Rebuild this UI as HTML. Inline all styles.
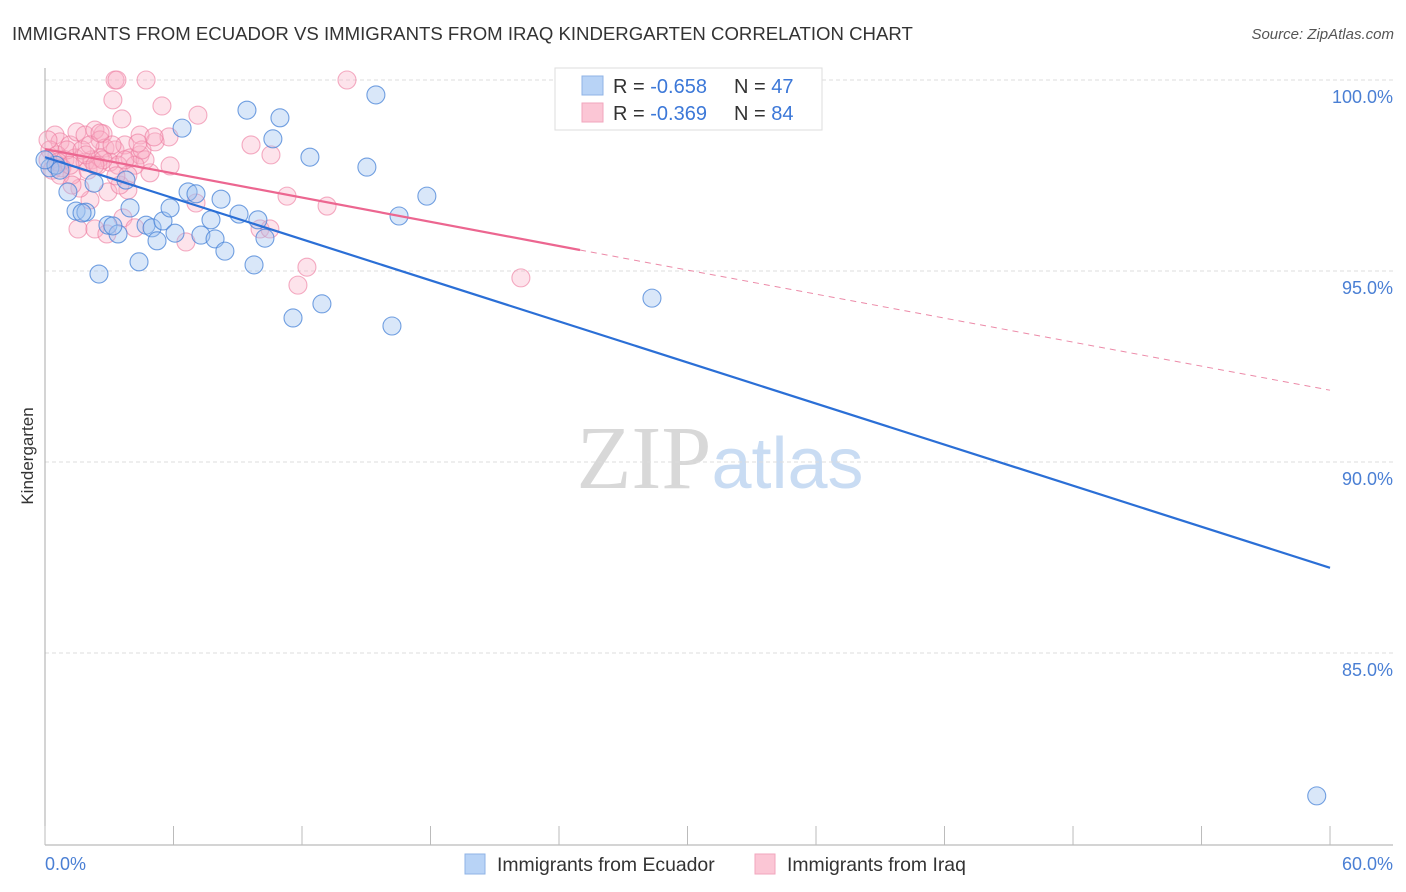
<!DOCTYPE html>
<html><head><meta charset="utf-8"><style>
body{margin:0;background:#fff;font-family:"Liberation Sans",sans-serif;}
svg{display:block}
</style></head><body>
<svg id="chart" width="1406" height="892" xmlns="http://www.w3.org/2000/svg">
<text x="12" y="40" font-size="18.6" fill="#333">IMMIGRANTS FROM ECUADOR VS IMMIGRANTS FROM IRAQ KINDERGARTEN CORRELATION CHART</text>
<text x="1394" y="39" font-size="15" fill="#555" font-style="italic" text-anchor="end">Source: ZipAtlas.com</text>
<text x="720" y="488" font-size="90" text-anchor="middle"><tspan fill="#d8d8d8" font-family="Liberation Serif">ZIP</tspan><tspan fill="#c9dcf3" font-size="72">atlas</tspan></text>
<g id="grid"></g>
<g id="axes"></g>
<g id="points"></g>
<g id="lines"></g>
<text transform="translate(33,456) rotate(-90)" font-size="17" fill="#333" text-anchor="middle">Kindergarten</text>
<text x="45" y="870" font-size="18" fill="#4a7fd4">0.0%</text>
<text x="1393" y="870" font-size="18" fill="#4a7fd4" text-anchor="end">60.0%</text>
<g>
<rect x="555" y="68" width="267" height="62" fill="#fff" stroke="#ddd"/>
<rect x="582" y="76" width="21" height="19" fill="#b8d3f6" stroke="#8fb3e6"/>
<rect x="582" y="103" width="21" height="19" fill="#fbc6d5" stroke="#f2a6bd"/>
<text x="613" y="93" font-size="20" fill="#333">R = <tspan fill="#3c78d8">-0.658</tspan></text>
<text x="734" y="93" font-size="20" fill="#333">N = <tspan fill="#3c78d8">47</tspan></text>
<text x="613" y="120" font-size="20" fill="#333">R = <tspan fill="#3c78d8">-0.369</tspan></text>
<text x="734" y="120" font-size="20" fill="#333">N = <tspan fill="#3c78d8">84</tspan></text>
</g>
<g>
<rect x="465" y="854" width="20" height="20" fill="#b8d3f6" stroke="#8fb3e6"/>
<text x="497" y="871" font-size="19.4" fill="#333">Immigrants from Ecuador</text>
<rect x="755" y="854" width="20" height="20" fill="#fbc6d5" stroke="#f2a6bd"/>
<text x="787" y="871" font-size="19.4" fill="#333">Immigrants from Iraq</text>
</g>
</svg>
<script>
const yTicks=[100,95,90,85];
const yTickLabels=["100.0%","95.0%","90.0%","85.0%"];
const xTicks=[0,6,12,18,24,30,36,42,48,54,60];
const blueX=[1.07,1.45,1.91,2.29,2.52,2.94,3.41,3.78,3.97,4.39,4.72,5.00,5.23,5.51,5.84,6.07,6.40,6.68,7.05,7.28,7.75,7.94,8.22,8.40,9.06,9.43,9.76,9.94,10.27,10.64,10.97,11.58,12.37,12.93,15.03,15.45,16.20,16.53,17.83,28.34,59.38,0.23,0.51,0.70,1.73,3.17,0.0];
const blueY=[97.07,96.57,96.54,97.30,94.92,96.20,95.97,97.38,96.65,95.24,96.20,96.13,95.79,96.31,96.65,95.99,98.74,97.07,97.02,95.94,96.34,95.84,96.88,95.52,96.49,99.21,95.16,96.34,95.86,98.46,99.01,93.77,97.98,94.14,97.72,99.61,93.56,96.44,96.96,94.29,81.26,97.70,97.77,97.64,96.52,96.18,97.91];
const pinkX=[3.27,3.36,4.72,14.10,3.17,5.46,7.14,3.59,9.62,10.55,11.30,13.17,12.23,11.81,6.58,10.04,10.50,7.05,4.90,5.84,5.79,4.44,2.71,1.54,2.33,2.89,3.64,4.20,3.87,2.94,2.10,1.63,0.47,0.70,1.17,1.49,1.87,2.33,2.57,2.80,3.27,3.73,3.97,4.44,4.67,0.56,0.93,1.40,1.87,2.19,2.57,3.03,3.41,0.23,0.14,0.33,0.79,1.26,2.01,2.47,2.71,4.20,4.53,5.14,3.50,3.87,1.03,1.73,2.10,0.70,1.26,22.22,4.34,3.13,3.31,2.57,5.09,0.14,0.61,1.17,1.91,2.33,3.73];
const pinkY=[100,100,100,100,99.48,99.32,99.08,98.98,98.30,98.04,96.96,96.70,95.10,94.63,95.76,96.10,96.10,96.78,97.57,97.75,98.51,98.56,98.59,96.10,96.10,95.97,96.39,96.13,97.12,97.07,96.86,97.17,98.56,98.38,98.30,98.64,98.56,98.69,98.43,98.22,98.17,98.30,97.96,98.04,97.91,98.04,97.91,97.96,97.85,97.91,97.96,97.85,97.77,98.17,97.91,97.64,97.70,97.51,97.64,97.77,97.91,97.77,98.17,98.38,97.25,97.51,98.17,98.17,98.30,97.51,97.25,94.82,98.35,98.30,97.49,98.61,98.51,98.43,97.85,97.77,98.04,97.77,97.91];
const blueTrend=[[0,97.98],[60,87.23]];
const pinkTrendSolid=[[0,98.19],[24.98,95.55]];
const pinkTrendDash=[[24.98,95.55],[60,91.88]];

const xs=v=>45+v*21.417;
const ys=v=>80+(100-v)*38.2;
const NS="http://www.w3.org/2000/svg";
function mk(tag,attrs,parent){const e=document.createElementNS(NS,tag);for(const k in attrs)e.setAttribute(k,attrs[k]);parent.appendChild(e);return e;}
const grid=document.getElementById('grid'),axes=document.getElementById('axes'),pts=document.getElementById('points'),lines=document.getElementById('lines');
yTicks.forEach((t,i)=>{
 const l=mk('line',{x1:45,x2:1393,y1:ys(t),y2:ys(t),stroke:'#ddd','stroke-dasharray':'4,3'},grid);
 
 
 const tx=mk('text',{x:1393,y:ys(t)+23,'font-size':18,fill:'#4a7fd4','text-anchor':'end'},grid);
 tx.textContent=yTickLabels[i];
 
 
});
const ya=mk('line',{x1:45,x2:45,y1:68,y2:845,stroke:'#aaa'},axes);


const xa=mk('line',{x1:45,x2:1393,y1:845,y2:845,stroke:'#aaa'},axes);


xTicks.forEach(t=>{
 const l=mk('line',{x1:xs(t),x2:xs(t),y1:826,y2:845,stroke:'#bbb'},axes);
 
 
});
function drawPts(X,Y,fill,stroke,name){X.forEach((x,i)=>{
 const c=mk('circle',{cx:xs(x),cy:ys(Y[i]),r:9,fill:fill,stroke:stroke,'stroke-width':1.1},pts);
 
 
});}
drawPts(pinkX,pinkY,'rgba(248,175,198,0.35)','rgba(236,120,156,0.6)','iraq-point');
drawPts(blueX,blueY,'rgba(160,196,240,0.4)','rgba(70,130,215,0.75)','ecuador-point');
function ln(p,stroke,w,dash,name){const l=mk('line',{x1:xs(p[0][0]),y1:ys(p[0][1]),x2:xs(p[1][0]),y2:ys(p[1][1]),stroke:stroke,'stroke-width':w},lines);if(dash)l.setAttribute('stroke-dasharray',dash);
 
 }
ln(blueTrend,'#2b6fd6',2.2,null,'ecuador-trendline');
ln(pinkTrendSolid,'#ec6690',2.2,null,'iraq-trendline');
ln(pinkTrendDash,'#ec8aa8',1,'6,5','iraq-trendline-extension');
</script>
</body></html>
